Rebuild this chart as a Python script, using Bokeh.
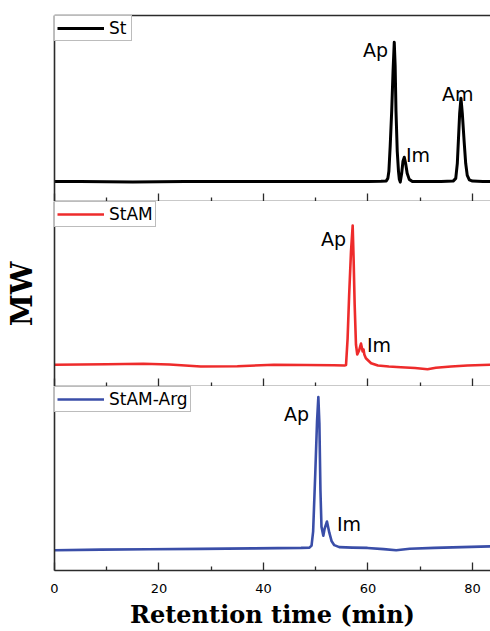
from bokeh.plotting import figure
from bokeh.layouts import column
from bokeh.models import (Range1d, LinearAxis, Legend, LegendItem,
                          FixedTicker, ColumnDataSource)
from bokeh.core.properties import value
from bokeh.embed import file_html
from bokeh.resources import INLINE

# ---------------- data (retention time in min, detector signal in a.u.) -------------
x_ticks = [0, 20, 40, 60, 80]
x_minor = [10, 30, 50, 70]
x_end = 83.45
y_end = 185

series_names = ["St", "StAM", "StAM-Arg"]
series_colors = ["#000000", "#ee2b2b", "#3a4ea8"]

st_time = [0, 5, 10, 15, 20, 25, 30, 35, 40, 45, 50, 55, 60, 62.5,
           63.5, 63.8, 64.0, 64.25, 64.54, 64.8, 65.03, 65.2, 65.36, 65.6, 65.84, 66.0,
           66.18, 66.45, 66.7, 66.95, 67.2, 67.5, 67.9, 68.5, 70, 72, 74,
           76.3, 76.8, 77.1, 77.3, 77.55, 77.8, 78.05, 78.4, 78.7, 79.0, 79.4, 80,
           82, 83.5]
st_signal = [20, 20, 19.7, 19.5, 19.7, 20, 20, 19.8, 19.8, 20, 20, 20, 20, 20.2,
             20.5, 23, 30, 55, 90, 130, 158.3, 135, 90, 50, 30, 22,
             19.3, 28, 40, 44, 38, 28, 22, 20, 20, 20, 20,
             20.3, 23, 38, 60, 88, 102.7, 88, 60, 38, 26, 21.5, 20.3,
             20, 20]

stam_time = [0, 5, 10, 17, 22, 28, 35, 42, 48, 53.5, 55.5,
             55.8, 56.1, 56.4, 56.75, 57.07, 57.26, 57.45, 57.7, 57.95, 58.3,
             58.66, 58.98, 59.15, 59.3, 59.6, 60.6, 61.9, 64, 66.3, 69, 71.4,
             73, 75.9, 79, 83.5]
stam_signal = [21.7, 22, 22.3, 22.7, 22, 20, 20.3, 21.7, 21.5, 21.3, 21,
               21.5, 48, 92, 135, 161, 125, 82, 42, 32, 36,
               43, 35, 37, 32, 28.3, 23.3, 21, 20, 19.3, 18.5, 17.3,
               18.8, 20, 21, 21.7]

arg_time = [0, 8.9, 18, 28, 38, 47.2, 48.8, 49.2, 49.5, 49.9, 50.25, 50.5,
            50.7, 50.9, 51.1, 51.45, 51.7, 52.15, 52.6, 53.05, 53.55, 54.5,
            57, 59.9, 63, 65.4, 68, 72.7, 78, 83.5]
arg_signal = [20.3, 21, 21.3, 21.7, 22.2, 22.7, 23, 25, 39, 96, 150, 174.3,
              148, 81, 44, 35, 42, 49.3, 38, 29.3, 25.5, 23.5,
              23, 22.7, 21.5, 20.3, 21.8, 22.7, 23.5, 24.3]

# peak annotations: text, anchor time, anchor signal, alignment
st_peaks = ["Ap", "Im", "Am"]
st_peak_t = [63.83, 67.27, 74.16]
st_peak_s = [151, 46, 107]
st_peak_align = ["right", "left", "left"]

stam_peaks = ["Ap", "Im"]
stam_peak_t = [55.79, 59.8]
stam_peak_s = [148, 42]
stam_peak_align = ["right", "left"]

arg_peaks = ["Ap", "Im"]
arg_peak_t = [48.7, 54.07]
arg_peak_s = [157, 47]
arg_peak_align = ["right", "left"]

x_title = "Retention time (min)"
y_title = "MW"

AXIS_COLOR = "#2b2b2b"
SANS = "DejaVu Sans"
SERIF = "DejaVu Serif"
LEFT = 54


def make_panel(t, s, name, color, lw, peaks, pt, ps, pa, height, top, bottom,
               last=False, top_line=False, ylabel=None):
    p = figure(width=490, height=height, x_range=Range1d(0, x_end),
               y_range=Range1d(0, y_end), output_backend="svg",
               toolbar_location=None, min_border_left=LEFT, min_border_right=0,
               min_border_top=top, min_border_bottom=bottom)
    p.outline_line_color = None
    p.xgrid.visible = False
    p.ygrid.visible = False
    p.background_fill_color = "white"
    p.border_fill_color = "white"

    r = p.line(t, s, line_color=color, line_width=lw, line_join="round")

    src = ColumnDataSource(dict(x=pt, y=ps, text=peaks, align=pa))
    p.text(x="x", y="y", text="text", source=src, text_align="align",
           text_baseline="alphabetic", text_font=value(SANS),
           text_font_size="19px", text_color="black")

    xa = p.xaxis[0]
    xa.ticker = FixedTicker(ticks=x_ticks, minor_ticks=x_minor)
    xa.axis_line_color = AXIS_COLOR
    xa.axis_line_width = 1.6
    xa.major_tick_line_color = AXIS_COLOR
    xa.minor_tick_line_color = AXIS_COLOR
    xa.major_tick_line_width = 1.3
    xa.minor_tick_line_width = 1.3
    xa.major_tick_in = 8
    xa.major_tick_out = 0
    xa.minor_tick_in = 4
    xa.minor_tick_out = 0
    if last:
        xa.major_label_text_font = SANS
        xa.major_label_text_font_size = "13px"
        xa.major_label_text_color = "black"
        xa.major_label_standoff = 13
        xa.axis_label = x_title
        xa.axis_label_text_font = SERIF
        xa.axis_label_text_font_style = "bold"
        xa.axis_label_text_font_size = "24px"
        xa.axis_label_text_color = "black"
        xa.axis_label_standoff = 4
    else:
        xa.major_label_overrides = {tk: "" for tk in x_ticks}
        xa.major_label_text_color = None
        xa.major_label_text_font_size = "1px"
        xa.major_label_standoff = 0

    ya = p.yaxis[0]
    ya.ticker = FixedTicker(ticks=[])
    ya.axis_line_color = AXIS_COLOR
    ya.axis_line_width = 1.6
    ya.major_tick_line_color = None
    ya.minor_tick_line_color = None
    ya.major_tick_out = 0
    ya.major_tick_in = 0
    ya.minor_tick_out = 0
    ya.major_label_standoff = 0
    if ylabel:
        ya.axis_label = ylabel
        ya.axis_label_text_font = SERIF
        ya.axis_label_text_font_style = "bold"
        ya.axis_label_text_font_size = "29px"
        ya.axis_label_text_color = "black"
        ya.axis_label_standoff = 16

    if top_line:
        ta = LinearAxis(ticker=FixedTicker(ticks=[]), axis_line_color=AXIS_COLOR,
                        axis_line_width=1.6, major_tick_line_color=None,
                        minor_tick_line_color=None, major_tick_out=0,
                        major_tick_in=0, major_label_standoff=0)
        p.add_layout(ta, "above")

    leg = Legend(items=[LegendItem(label=name, renderers=[r])],
                 location="top_left", margin=0, padding=2, spacing=0,
                 glyph_width=47, glyph_height=12, label_standoff=5,
                 label_height=12, label_text_font=SANS,
                 label_text_font_size="17px", label_text_color="black",
                 border_line_color="#7a7a7a", border_line_width=1.2,
                 background_fill_color="white", background_fill_alpha=1)
    p.add_layout(leg)
    return p


p1 = make_panel(st_time, st_signal, series_names[0], series_colors[0], 3.0,
                st_peaks, st_peak_t, st_peak_s, st_peak_align,
                height=201, top=15, bottom=0, top_line=True)
p2 = make_panel(stam_time, stam_signal, series_names[1], series_colors[1], 2.6,
                stam_peaks, stam_peak_t, stam_peak_s, stam_peak_align,
                height=185, top=0, bottom=0, ylabel=y_title)
p3 = make_panel(arg_time, arg_signal, series_names[2], series_colors[2], 2.6,
                arg_peaks, arg_peak_t, arg_peak_s, arg_peak_align,
                height=245, top=0, bottom=0, last=True)

layout = column(p1, p2, p3, spacing=0)

open("out.html", "w").write(file_html(layout, INLINE))
